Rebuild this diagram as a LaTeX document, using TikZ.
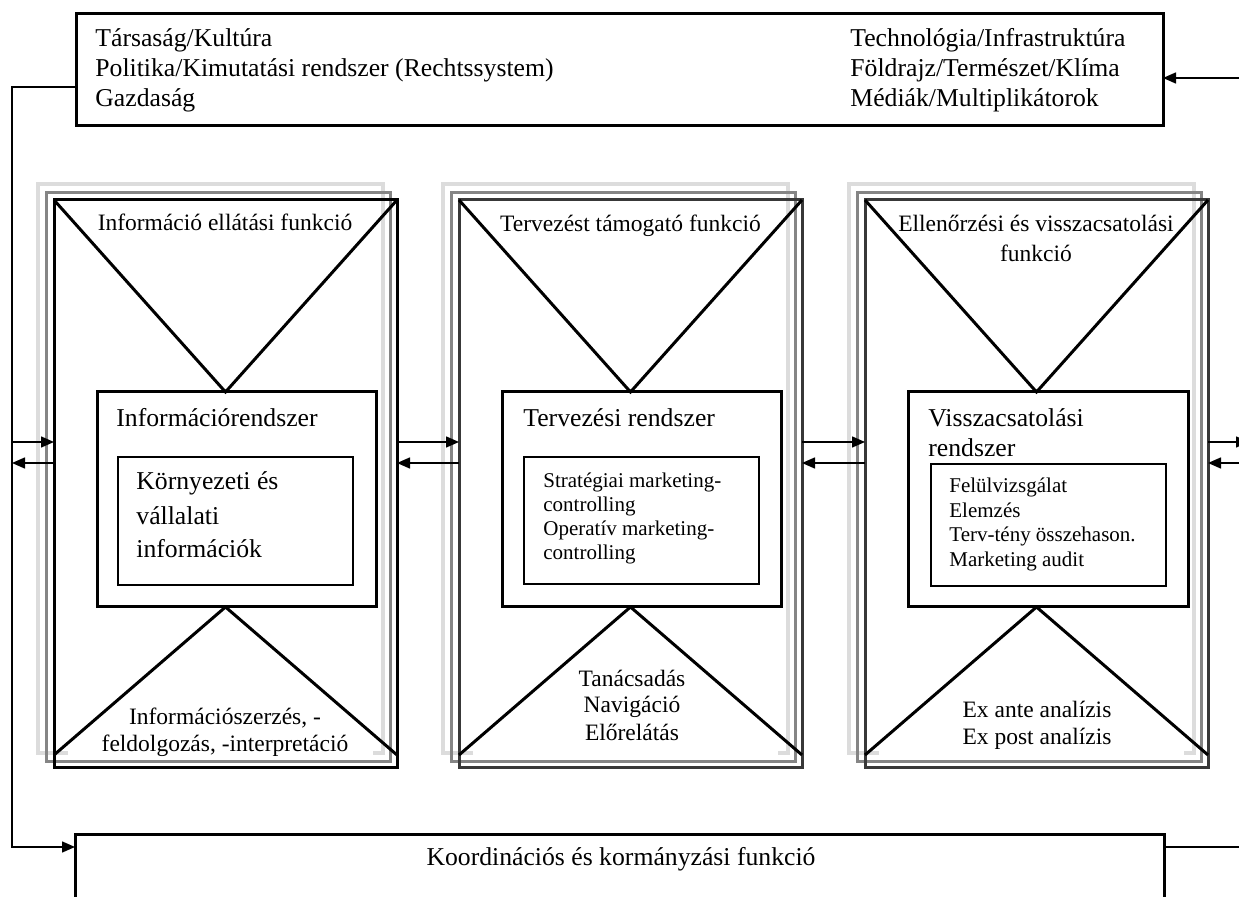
\documentclass[tikz,border=0pt]{standalone}
\usepackage{fontspec}
\setmainfont{Liberation Serif}
\usetikzlibrary{arrows.meta}
\definecolor{lgray}{HTML}{DCDCDC}
\definecolor{mgray}{HTML}{858585}
\definecolor{dgray}{HTML}{383838}
\begin{document}
\begin{tikzpicture}[x=0.5pt,y=-0.5pt,
  frame/.style={draw, line width=1.5pt, inner sep=0, outer sep=0},
  subbox/.style={draw, line width=0.9pt, inner sep=0, outer sep=0},
  conn/.style={line width=0.75pt},
  arr/.style={conn, -{Triangle[length=6.5pt,width=5.5pt]}},
  diag/.style={line width=1.5pt},
  bigt/.style={font=\fontsize{12.85}{15}\selectfont, inner sep=0},
  medt/.style={font=\fontsize{11.75}{13.5}\selectfont, inner sep=0},
  smallt/.style={font=\fontsize{10.5}{12.25}\selectfont, inner sep=0}]
\useasboundingbox (0,0) rectangle (1239,897);
\clip (0,0) rectangle (1239,897);

% helper coordinates
\coordinate (yA) at (0,442);
\coordinate (yB) at (0,463);
\coordinate (yC) at (0,847);
\coordinate (yD) at (0,755);
\coordinate (yT) at (0,87);
\coordinate (yR) at (0,78);
\coordinate (fbL) at (12,87);
\coordinate (rEdge) at (1239,0);
\coordinate (rTip) at (1249,0);

% gray shadow frames
\foreach \x in {54,459,865}{
  \draw[lgray, line width=2pt] (\x+14,753) -- (\x-16,753) -- (\x-16,184) -- (\x+329,184) -- (\x+329,753) -- (\x+319,753);
  \draw[mgray, line width=1.5pt] (\x-8,193) rectangle (\x+336,762);
}

% top and bottom boxes
\node[frame, minimum width=543.5pt, minimum height=56pt] (top) at (619.5,70) {};
\node[frame, minimum width=544.5pt, minimum height=50pt] (bot) at (619.5,885) {};

% columns
\node[frame, minimum width=171.5pt, minimum height=284pt] (col1) at (225.5,484) {};
\node[frame, draw=dgray, minimum width=171.5pt, minimum height=284pt] (col2) at (630.5,484) {};
\node[frame, draw=dgray, minimum width=171.5pt, minimum height=284pt] (col3) at (1036.5,484) {};

% inner system boxes
\node[frame, minimum width=139.5pt, minimum height=107.5pt] (in1) at (236.5,499.5) {};
\node[frame, minimum width=139.5pt, minimum height=107.5pt] (in2) at (641.5,499.5) {};
\node[frame, minimum width=140pt, minimum height=107.5pt] (in3) at (1048,499.5) {};

% sub boxes
\node[subbox, minimum width=117.5pt, minimum height=64pt] (sub1) at (235.5,521) {};
\node[subbox, minimum width=117.5pt, minimum height=63.5pt] (sub2) at (641.5,520.5) {};
\node[subbox, minimum width=117.5pt, minimum height=61pt] (sub3) at (1048.5,525) {};

% triangles
\foreach \c/\i in {col1/in1,col2/in2,col3/in3}{
  \coordinate (apT-\c) at (\c.center |- \i.north);
  \coordinate (apB-\c) at (\c.center |- \i.south);
  \draw[diag] (\c.north west) -- (apT-\c) -- (\c.north east);
  \draw[diag] (\c.west |- yD) -- (apB-\c) -- (\c.east |- yD);
}

% connectors between columns
\draw[arr] (fbL |- yA) -- (col1.west |- yA);
\draw[arr] (col1.west |- yB) -- (fbL |- yB);
\draw[arr] (col1.east |- yA) -- (col2.west |- yA);
\draw[arr] (col2.west |- yB) -- (col1.east |- yB);
\draw[arr] (col2.east |- yA) -- (col3.west |- yA);
\draw[arr] (col3.west |- yB) -- (col2.east |- yB);
\draw[arr] (col3.east |- yA) -- (rTip |- yA);
\draw[arr] (rEdge |- yB) -- (col3.east |- yB);

% feedback loop
\draw[arr] (top.west |- yT) -- (fbL) -- (fbL |- yC) -- (bot.west |- yC);
\draw[conn] (bot.east |- yC) -- (rEdge |- yC);
\draw[arr] (rEdge |- yR) -- (top.east |- yR);

% top box texts
\node[bigt, anchor=base west] (tl1) at (95,47) {Társaság/Kultúra};
\node[bigt, anchor=base west] (tl2) at (95,77) {Politika/Kimutatási rendszer (Rechtssystem)};
\node[bigt, anchor=base west] (tl3) at (95,107) {Gazdaság};
\node[bigt, anchor=base west] (tr1) at (850,47) {Technológia/Infrastruktúra};
\node[bigt, anchor=base west] (tr2) at (850,77) {Földrajz/Természet/Klíma};
\node[bigt, anchor=base west] (tr3) at (850,107) {Médiák/Multiplikátorok};

% top triangle texts
\node[medt, anchor=base] (f1) at (225,231) {Információ ellátási funkció};
\node[medt, anchor=base] (f2) at (630.5,232) {Tervezést támogató funkció};
\node[medt, anchor=base] (f3a) at (1036,232) {Ellenőrzési és visszacsatolási};
\node[medt, anchor=base] (f3b) at (1036,262) {funkció};

% inner titles
\node[bigt, anchor=base west] (s1) at (116,427) {Információrendszer};
\node[bigt, anchor=base west] (s2) at (523,427) {Tervezési rendszer};
\node[bigt, anchor=base west] (s3a) at (928,427) {Visszacsatolási};
\node[bigt, anchor=base west] (s3b) at (928,457) {rendszer};

% sub box texts
\node[bigt, anchor=base west] (k1) at (136,490) {Környezeti és};
\node[bigt, anchor=base west] (k2) at (136,525) {vállalati};
\node[bigt, anchor=base west] (k3) at (136,558) {információk};
\node[smallt, anchor=base west] (m1) at (543,488) {Stratégiai marketing-};
\node[smallt, anchor=base west] (m2) at (543,512) {controlling};
\node[smallt, anchor=base west] (m3) at (543,536) {Operatív marketing-};
\node[smallt, anchor=base west] (m4) at (543,560) {controlling};
\node[smallt, anchor=base west] (v1) at (949,493) {Felülvizsgálat};
\node[smallt, anchor=base west] (v2) at (949,518) {Elemzés};
\node[smallt, anchor=base west] (v3) at (949,542) {Terv-tény összehason.};
\node[smallt, anchor=base west] (v4) at (949,567) {Marketing audit};

% bottom triangle texts
\node[medt, anchor=base] (b1a) at (225,725) {Információszerzés, -};
\node[medt, anchor=base] (b1b) at (225,752) {feldolgozás, -interpretáció};
\node[medt, anchor=base] (b2a) at (632,687) {Tanácsadás};
\node[medt, anchor=base] (b2b) at (632,713) {Navigáció};
\node[medt, anchor=base] (b2c) at (632,741) {Előrelátás};
\node[medt, anchor=base] (b3a) at (1037,718) {Ex ante analízis};
\node[medt, anchor=base] (b3b) at (1037,745) {Ex post analízis};

% bottom box text
\node[bigt, anchor=base] (ko) at (621,866) {Koordinációs és kormányzási funkció};
\end{tikzpicture}
\end{document}
